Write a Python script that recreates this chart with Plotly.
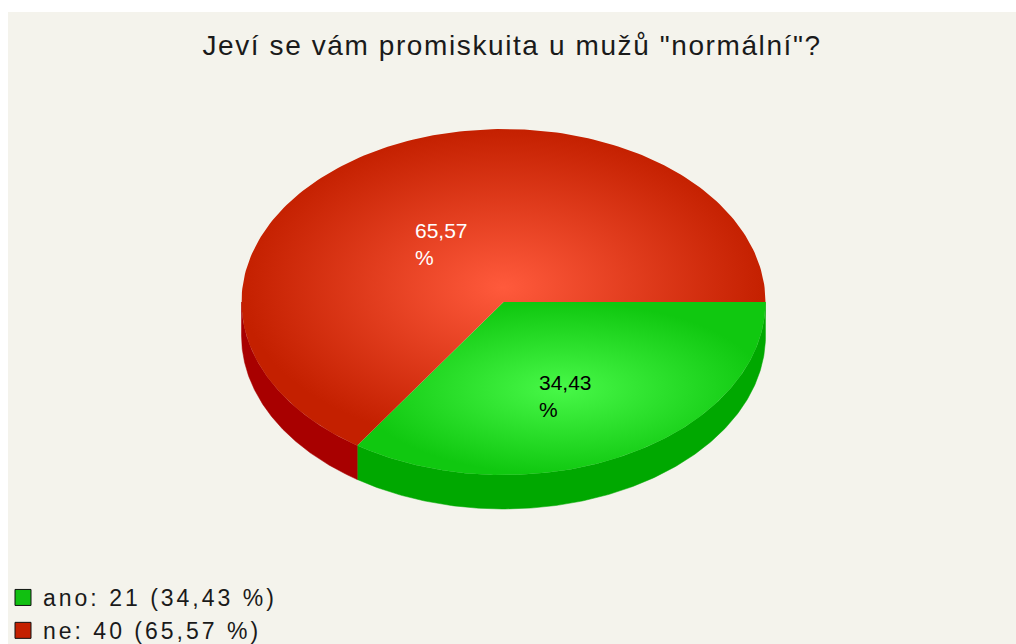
import numpy as np
import plotly.graph_objects as go

# ---- data ----
title_text = 'Jeví se vám promiskuita u mužů "normální"?'
labels = ["ano", "ne"]
values = [21, 40]
top_center_colors = ["#48f848", "#ff5a3c"]
top_edge_colors = ["#10c810", "#c42000"]
side_colors = ["#00a800", "#a80000"]
legend_colors = ["#11c011", "#c42000"]
label_text_colors = ["#000000", "#ffffff"]

# ---- layout geometry (pixels) ----
W, H = 1016, 644
CX, CY, RX, RY, DEPTH = 503.5, 302, 262, 173, 34
FONT = "Liberation Sans, Arial, sans-serif"

total = sum(values)
fracs = [v / total for v in values]
pcts = [100 * f for f in fracs]


def fmt(p):
    return f"{p:.2f}".replace(".", ",")


def arc(t0, t1, n=200, dy=0.0):
    t = np.linspace(t0, t1, n)
    return CX + RX * np.cos(t), CY + dy + RY * np.sin(t)


fig = go.Figure()

# angles (screen: clockwise from east)
bounds = []
start = 0.0
for f in fracs:
    end = start + f * 2 * np.pi
    bounds.append((start, end))
    start = end

# sides (visible front half: 0..pi)
for i, (t0, t1) in enumerate(bounds):
    a, b = max(t0, 0.0), min(t1, np.pi)
    if b <= a:
        continue
    xt, yt = arc(a, b)
    xb, yb = arc(b, a, dy=DEPTH)
    xs = np.concatenate([xt, xb, xt[:1]])
    ys = np.concatenate([yt, yb, yt[:1]])
    fig.add_trace(go.Scatter(x=xs, y=ys, mode="lines", fill="toself",
                             fillcolor=side_colors[i], line=dict(width=0.5, color=side_colors[i]),
                             hoverinfo="skip", showlegend=False))

# top faces
for i, (t0, t1) in enumerate(bounds):
    xa, ya = arc(t0, t1)
    xs = np.concatenate([[CX], xa, [CX]])
    ys = np.concatenate([[CY], ya, [CY]])
    fig.add_trace(go.Scatter(x=xs, y=ys, mode="lines", fill="toself",
                             fillgradient=dict(type="radial",
                                               colorscale=[[0, top_center_colors[i]], [1, top_edge_colors[i]]]),
                             line=dict(width=0), hoverinfo="skip", showlegend=False))

# slice labels
annotations = []
for i, (t0, t1) in enumerate(bounds):
    tm = (t0 + t1) / 2
    annotations.append(dict(x=CX + 0.5 * RX * np.cos(tm), y=CY + 0.5 * RY * np.sin(tm),
                            xref="x", yref="y", text=f"{fmt(pcts[i])}<br>%", showarrow=False,
                            align="left", xanchor="center", yanchor="middle", yshift=-18,
                            font=dict(family=FONT, size=21, color=label_text_colors[i])))

# legend entries
for i, lab in enumerate(labels):
    name = f'<span style="letter-spacing:3px">{lab}: {values[i]} ({fmt(pcts[i])} %)</span>'
    fig.add_trace(go.Scatter(x=[None], y=[None], mode="markers", name=name,
                             marker=dict(symbol="square", size=16, color=legend_colors[i],
                                         line=dict(color="#111111", width=1))))

fig.update_layout(
    width=W, height=H,
    margin=dict(l=0, r=0, t=0, b=0, autoexpand=False),
    paper_bgcolor="#ffffff",
    plot_bgcolor="rgba(0,0,0,0)",
    xaxis=dict(range=[0, W], visible=False, fixedrange=True),
    yaxis=dict(range=[H, 0], visible=False, fixedrange=True),
    title=dict(text=f'<span style="letter-spacing:1.6px">{title_text}</span>',
               x=0.504, xanchor="center", y=1 - 45 / H, yanchor="middle",
               font=dict(family=FONT, size=28, color="#1a1a1a")),
    shapes=[dict(type="rect", xref="x", yref="y", x0=8, x1=W, y0=12, y1=H,
                 fillcolor="#f4f3ec", line=dict(width=0), layer="below")],
    annotations=annotations,
    showlegend=True,
    legend=dict(x=3 / W, y=1 - 576 / H, xanchor="left", yanchor="top",
                font=dict(family=FONT, size=23, color="#1a1a1a"),
                bgcolor="rgba(0,0,0,0)", itemwidth=30, traceorder="normal"),
)

fig.write_html("out.html", config={"displayModeBar": False},
               post_script="document.body.style.margin='0';document.body.style.overflow='hidden';")
